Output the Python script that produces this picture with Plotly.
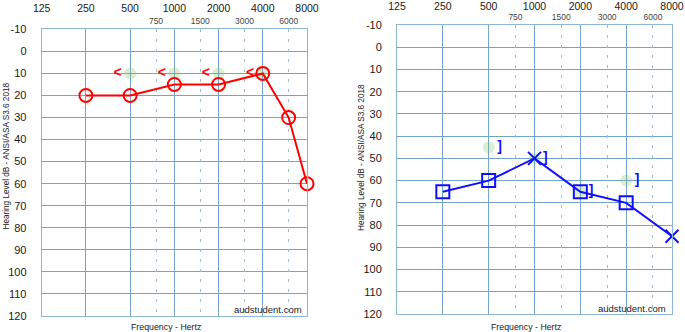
import math
import plotly.graph_objects as go

# ---------------- data ----------------
freq_major = [125, 250, 500, 1000, 2000, 4000, 8000]
freq_minor = [750, 1500, 3000, 6000]
db_ticks = list(range(-10, 130, 10))

left_air_freq = [250, 500, 1000, 2000, 4000, 6000, 8000]
left_air_db = [20, 20, 15, 15, 10, 30, 60]
left_bone_freq = [500, 1000, 2000, 4000]
left_bone_db = [10, 10, 10, 10]

right_air_freq = [250, 500, 1000, 2000, 4000, 8000]
right_air_db = [65, 60, 50, 65, 70, 85]
right_air_masked = [False, False, True, False, False, True]
right_bone_freq = [500, 1000, 2000, 4000]
right_bone_db = [45, 50, 65, 60]

y_title = "Hearing Level dB - ANSI/ASA S3.6 2018"
x_title = "Frequency - Hertz"
credit = "audstudent.com"

# ---------------- style ----------------
W, H = 685, 332
FONT = "Arial, Liberation Sans, sans-serif"
GRID = "#74a3cb"
FRAME = "#8db6d8"
DASH = "#9dbfdc"
RED = "#ff0000"
BLUE = "#1010ff"
GLOW = "rgba(130,190,100,0.28)"

def px_x(p):
    return p / W

def px_y(p):
    return 1 - p / H

fig = go.Figure()

# left panel: bone conduction (unmasked, "<") with soft glow, then air conduction
fig.add_trace(go.Scatter(x=left_bone_freq, y=left_bone_db, mode="markers+text",
                         marker=dict(size=12, color=GLOW, line=dict(width=0)),
                         text=["<"] * len(left_bone_freq), textposition="middle left",
                         textfont=dict(size=14, color=RED, family=FONT, weight="bold"),
                         xaxis="x", yaxis="y", hoverinfo="skip", cliponaxis=False))
fig.add_trace(go.Scatter(x=left_air_freq, y=left_air_db, mode="lines+markers",
                         line=dict(color=RED, width=2),
                         marker=dict(symbol="circle-open", size=13, color=RED,
                                     line=dict(width=2, color=RED)),
                         xaxis="x", yaxis="y", hoverinfo="skip", cliponaxis=False))

# right panel: bone conduction (masked, "]") with soft glow, then air conduction
fig.add_trace(go.Scatter(x=right_bone_freq, y=right_bone_db, mode="markers+text",
                         marker=dict(size=12, color=GLOW, line=dict(width=0)),
                         text=["]"] * len(right_bone_freq), textposition="middle right",
                         textfont=dict(size=14, color=BLUE, family=FONT, weight="bold"),
                         xaxis="x2", yaxis="y2", hoverinfo="skip", cliponaxis=False))
symbols = ["x-thin-open" if m else "square-open" for m in right_air_masked]
fig.add_trace(go.Scatter(x=right_air_freq, y=right_air_db, mode="lines+markers",
                         line=dict(color=BLUE, width=2),
                         marker=dict(symbol=symbols, size=13, color=BLUE,
                                     line=dict(width=2, color=BLUE)),
                         xaxis="x2", yaxis="y2", hoverinfo="skip", cliponaxis=False))

xr = [math.log10(freq_major[0]), math.log10(freq_major[-1])]

def xmajor(domain, tl):
    return dict(type="log", range=xr, domain=domain, side="top", automargin=False,
                tickmode="array", tickvals=freq_major, ticktext=[str(f) for f in freq_major],
                tickfont=dict(family=FONT, size=10.5, color="#1a1a1a"),
                ticks="outside", ticklen=tl, tickcolor="rgba(0,0,0,0)",
                showgrid=True, gridcolor=GRID, gridwidth=1,
                showline=True, linecolor=FRAME, linewidth=1, mirror=True,
                zeroline=False, fixedrange=True)

def xminor(over, anchor):
    return dict(type="log", range=xr, overlaying=over, anchor=anchor, side="top", automargin=False,
                tickmode="array", tickvals=freq_minor, ticktext=[str(f) for f in freq_minor],
                tickfont=dict(family=FONT, size=8.5, color="#444444"),
                ticks="outside", ticklen=1, tickcolor="rgba(0,0,0,0)",
                showgrid=True, gridcolor=DASH, gridwidth=1, griddash="3px,7px",
                showline=False, zeroline=False, fixedrange=True)

def yaxis(domain, anchor):
    return dict(range=[120, -10], domain=domain, anchor=anchor, automargin=False,
                tickmode="array", tickvals=db_ticks, ticktext=[str(v) for v in db_ticks],
                tickfont=dict(family=FONT, size=11, color="#1a1a1a"),
                ticks="outside", ticklen=12, tickcolor="rgba(0,0,0,0)",
                showgrid=True, gridcolor=GRID, gridwidth=1,
                showline=True, linecolor=FRAME, linewidth=1, mirror=True,
                zeroline=False, fixedrange=True)

L = (41.7, 307.0, 29.3, 316.0)
R = (397.0, 672.0, 25.0, 314.0)

fig.update_layout(
    width=W, height=H,
    margin=dict(l=0, r=0, t=0, b=0, autoexpand=False),
    paper_bgcolor="white", plot_bgcolor="white",
    showlegend=False, hovermode=False,
    font=dict(family=FONT),
    xaxis=dict(**xmajor([px_x(L[0]), px_x(L[1])], 12), anchor="y"),
    yaxis=yaxis([px_y(L[3]), px_y(L[2])], "x"),
    xaxis2=dict(**xmajor([px_x(R[0]), px_x(R[1])], 10), anchor="y2"),
    yaxis2=yaxis([px_y(R[3]), px_y(R[2])], "x2"),
    xaxis3=xminor("x", "y"),
    xaxis4=xminor("x2", "y2"),
)

# dummy traces so the minor-frequency axes render
fig.add_trace(go.Scatter(x=[freq_minor[0]], y=[None], xaxis="x3", yaxis="y", hoverinfo="skip", mode="markers"))
fig.add_trace(go.Scatter(x=[freq_minor[0]], y=[None], xaxis="x4", yaxis="y2", hoverinfo="skip", mode="markers"))

ann = []
for tx, ty in [(5.5, 156), (361, 157)]:
    ann.append(dict(text=y_title, textangle=-90, x=px_x(tx), y=px_y(ty), xref="paper", yref="paper",
                    showarrow=False, xanchor="center", yanchor="middle",
                    font=dict(family=FONT, size=8.2, color="#1a1a1a")))
for cx, cy in [(166, 326.5), (526, 326.5)]:
    ann.append(dict(text=x_title, x=px_x(cx), y=px_y(cy), xref="paper", yref="paper",
                    showarrow=False, xanchor="center", yanchor="middle",
                    font=dict(family=FONT, size=8.8, color="#1a1a1a")))
for rx, cy in [(304, 309), (668, 308)]:
    ann.append(dict(text=credit, x=px_x(rx), y=px_y(cy), xref="paper", yref="paper",
                    showarrow=False, xanchor="right", yanchor="middle",
                    font=dict(family=FONT, size=9.5, color="#1a1a1a")))
fig.update_layout(annotations=ann)

fig.write_html("out.html", config=dict(displayModeBar=False, staticPlot=True),
               post_script="document.body.style.margin='0px';document.body.style.overflow='hidden';")
